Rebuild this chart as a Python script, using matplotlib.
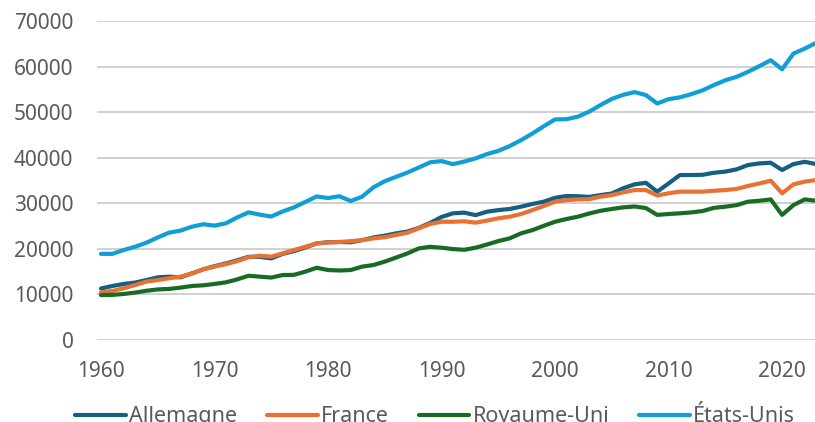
import matplotlib
matplotlib.use("Agg")
import matplotlib.pyplot as plt

years = list(range(1960, 2024))

allemagne = [
    11300, 11850, 12300, 12600, 13150, 13750, 13900, 13750, 14600, 15500,
    16200, 16800, 17500, 18250, 18250, 17900, 18900, 19500, 20300, 21200,
    21450, 21500, 21450, 21900, 22500, 22900, 23400, 23800, 24600, 25700,
    27000, 27800, 27950, 27400, 28150, 28500, 28750, 29250, 29850, 30350,
    31200, 31600, 31550, 31400, 31800, 32150, 33300, 34150, 34500, 32550,
    34350, 36200, 36200, 36250, 36700, 36950, 37450, 38400, 38750, 38900,
    37300, 38600, 39100, 38600,
]
france = [
    10450, 10750, 11350, 12050, 12800, 13150, 13550, 13900, 14600, 15500,
    16100, 16650, 17300, 18150, 18500, 18300, 19000, 19750, 20450, 21200,
    21400, 21500, 21700, 21900, 22300, 22550, 23050, 23550, 24500, 25450,
    25950, 25950, 26050, 25750, 26200, 26700, 27050, 27650, 28500, 29400,
    30350, 30700, 30850, 30900, 31450, 31800, 32400, 32900, 32900, 31700,
    32200, 32550, 32550, 32550, 32750, 32900, 33150, 33800, 34350, 34950,
    32200, 34150, 34750, 35100,
]
royaume_uni = [
    9850, 9900, 10100, 10400, 10800, 11100, 11200, 11500, 11850, 12000,
    12300, 12650, 13300, 14100, 13900, 13700, 14250, 14300, 15000, 15850,
    15350, 15250, 15350, 16100, 16450, 17200, 18100, 19000, 20100, 20450,
    20250, 19950, 19800, 20250, 20950, 21700, 22300, 23400, 24100, 25050,
    25950, 26550, 27050, 27750, 28350, 28750, 29100, 29300, 28950, 27450,
    27650, 27800, 28000, 28300, 29000, 29250, 29600, 30350, 30550, 30850,
    27450, 29600, 30850, 30550,
]
etats_unis = [
    18900, 18900, 19750, 20450, 21350, 22500, 23550, 24000, 24850, 25400,
    25100, 25600, 26900, 28000, 27500, 27100, 28200, 29100, 30300, 31500,
    31150, 31550, 30500, 31450, 33500, 34850, 35800, 36750, 37850, 39000,
    39250, 38600, 39150, 39850, 40800, 41500, 42550, 43850, 45300, 46900,
    48400, 48450, 49000, 50100, 51550, 52900, 53800, 54400, 53750, 51900,
    52850, 53250, 53950, 54800, 55950, 57000, 57750, 58850, 60100, 61400,
    59400, 62850, 63950, 65200,
]

series_names = ["Allemagne", "France", "Royaume-Uni", "États-Unis"]
series_colors = ["#156082", "#E97132", "#196B24", "#0F9ED5"]
y_ticks = [0, 10000, 20000, 30000, 40000, 50000, 60000, 70000]
x_ticks = [1960, 1970, 1980, 1990, 2000, 2010, 2020]

plt.rcParams["font.family"] = ["Noto Sans", "DejaVu Sans"]

fig = plt.figure(figsize=(8.15, 4.22), dpi=100)
ax = fig.add_axes([97 / 815, 1 - 340 / 422, 1 - 97 / 815, (340 - 21) / 422])

for values, name, color in zip([allemagne, france, royaume_uni, etats_unis],
                               series_names, series_colors):
    ax.plot(years, values, color=color, lw=3.0, label=name,
            solid_joinstyle="round", solid_capstyle="round")

ax.set_xlim(1959.65, 2022.9)
ax.set_ylim(0, 70000)
ax.set_yticks(y_ticks)
ax.set_yticklabels([str(v) for v in y_ticks])
ax.set_xticks(x_ticks)
ax.set_xticklabels([str(v) for v in x_ticks])
ax.grid(axis="y", color="#d0d0d0", lw=1.4)
ax.set_axisbelow(True)
for side in ["top", "right", "left", "bottom"]:
    ax.spines[side].set_visible(False)
ax.tick_params(axis="both", length=0, labelsize=15, colors="#595959")
ax.tick_params(axis="y", pad=17)
ax.tick_params(axis="x", pad=15)

handles, labels = ax.get_legend_handles_labels()
fig.legend(handles, labels, loc="center", bbox_to_anchor=(0.534, 0.012),
           ncol=4, frameon=False, fontsize=15.5, handlelength=2.35,
           handletextpad=0.14, columnspacing=1.4, labelcolor="#595959")

fig.savefig("out.png", dpi=100)
